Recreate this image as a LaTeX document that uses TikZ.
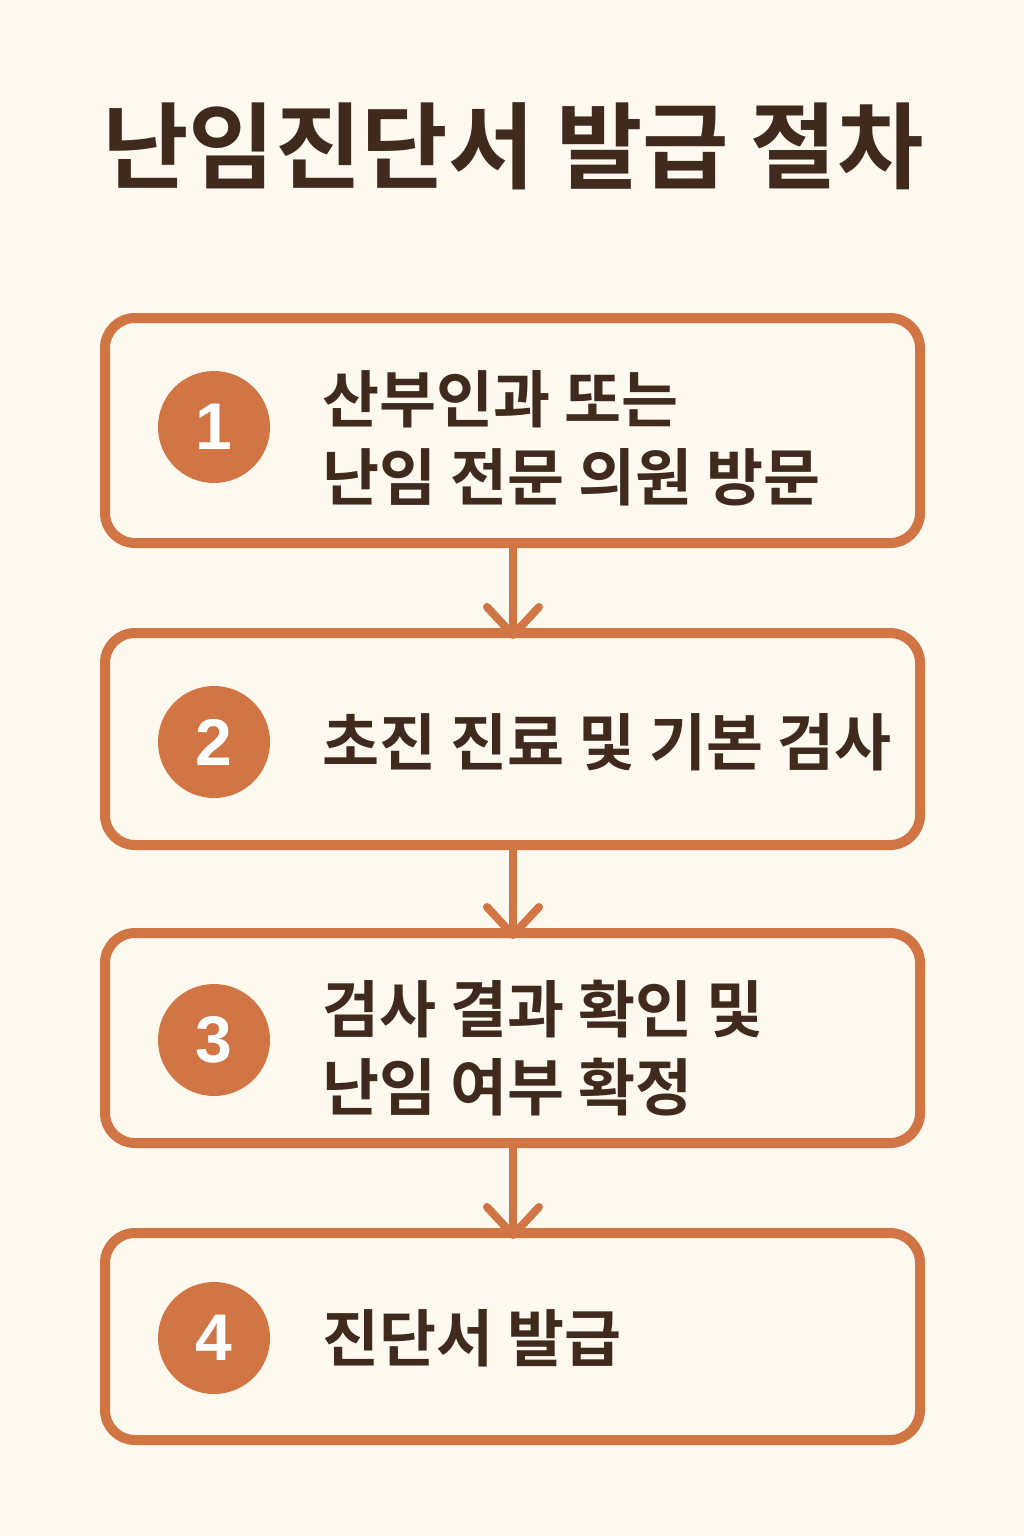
\documentclass[tikz,border=0pt]{standalone}
\usepackage{fontspec}
\newfontfamily\kr{Noto Sans CJK KR}[BoldFont={Noto Sans CJK KR Bold}]
\newfontfamily\numfont{Liberation Sans}
\definecolor{bg}{HTML}{FDF9EE}
\definecolor{accent}{HTML}{D17545}
\definecolor{ink}{HTML}{3F2A1D}
\tikzset{
  stepbox/.style={draw=accent, line width=10pt, rounded corners=30pt},
  numdot/.style={circle, fill=accent, minimum size=112pt, inner sep=0pt, text=white, font=\numfont\bfseries\fontsize{66}{66}\selectfont},
  steptext/.style={anchor=west, text=ink, align=left, inner sep=0pt, font=\kr\bfseries\fontsize{62}{78}\selectfont},
  flow/.style={draw=accent, line width=8pt},
  chev/.style={draw=accent, line width=8pt, line cap=round, line join=round}
}
\begin{document}
\begin{tikzpicture}[x=1pt,y=-1pt]
\fill[bg] (0,0) rectangle (1024,1536);
\useasboundingbox (0,0) rectangle (1024,1536);
\node[text=ink, font=\kr\bfseries\fontsize{94}{94}\selectfont, inner sep=0pt] (title) at (513,146) {난임진단서 발급 절차};
% boxes
\draw[stepbox] (105,318) rectangle (920,543);
\coordinate (b1b) at (513,543);
\draw[stepbox] (105,633) rectangle (920,845);
\coordinate (b2t) at (513,633);
\coordinate (b2b) at (513,845);
\draw[stepbox] (105,933) rectangle (920,1143);
\coordinate (b3t) at (513,933);
\coordinate (b3b) at (513,1143);
\draw[stepbox] (105,1233) rectangle (920,1440);
\coordinate (b4t) at (513,1233);
% circles
\node[numdot] (n1) at (214,427) {1};
\node[numdot] (n2) at (214,742) {2};
\node[numdot] (n3) at (214,1040) {3};
\node[numdot] (n4) at (214,1338) {4};
% texts
\node[steptext] (t1) at (322,438) {산부인과 또는\\난임 전문 의원 방문};
\node[steptext] (t2) at (322,742) {초진 진료 및 기본 검사};
\node[steptext] (t3) at (322,1048) {검사 결과 확인 및\\난임 여부 확정};
\node[steptext] (t4) at (322,1338) {진단서 발급};
% arrows
\draw[flow] (b1b) -- (b2t);
\draw[chev] ([xshift=-26pt,yshift=26pt]b2t) -- ([yshift=-2pt]b2t) -- ([xshift=26pt,yshift=26pt]b2t);
\draw[flow] (b2b) -- (b3t);
\draw[chev] ([xshift=-26pt,yshift=26pt]b3t) -- ([yshift=-2pt]b3t) -- ([xshift=26pt,yshift=26pt]b3t);
\draw[flow] (b3b) -- (b4t);
\draw[chev] ([xshift=-26pt,yshift=26pt]b4t) -- ([yshift=-2pt]b4t) -- ([xshift=26pt,yshift=26pt]b4t);
\end{tikzpicture}
\end{document}
